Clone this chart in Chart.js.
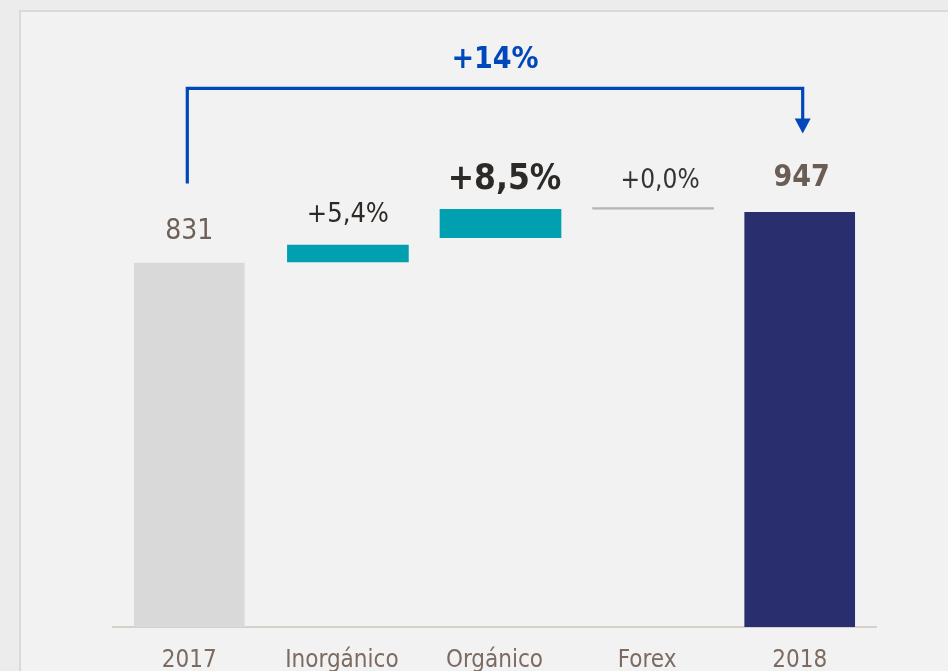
<!DOCTYPE html>
<html>
<head>
<meta charset="utf-8">
<script src="https://cdn.jsdelivr.net/npm/chart.js@4"></script>
<style>
  body { margin: 0; background: #ececec; overflow: hidden; }
  #frame { position: absolute; left: 19px; top: 10px; width: 2000px; height: 2000px;
           border: 2px solid #dadada; background: #f2f2f2; }
  #chart { position: absolute; left: 0; top: 0; }
</style>
</head>
<body>
<div id="frame"></div>
<canvas id="chart" width="948" height="671"></canvas>
<script>
// categories and values
var categories = ['2017', 'Inorgánico', 'Orgánico', 'Forex', '2018'];
var totals = [831, null, null, null, 947];
var changeStart = [null, 834, 889, 954, null];
var changeEnd = [null, 872, 954, 958, null];
var valueLabels = ['831', '+5,4%', '+8,5%', '+0,0%', '947'];
var totalGrowth = '+14%';
var bracketLevel = 1230;   // value level of the blue bracket
var bracketStart = 1013;   // where the bracket leaves 2017
var bracketTip = 1127;     // arrow tip above 2018

var FONT = "'DejaVu Sans Condensed', 'Liberation Sans Narrow', 'DejaVu Sans', sans-serif";
var CHANGE_SHIFT = 6; // the variation bars sit a little right of their labels

// style for each value label: font, colour, x nudge, gap above the bar
var labelStyles = [
    { font: '28px ' + FONT, color: '#6d6058', dx: 0, gap: 31 },
    { font: '27px ' + FONT, color: '#2d2926', dx: 0, gap: 30 },
    { font: 'bold 35px ' + FONT, color: '#2d2926', dx: 4, gap: 29 },
    { font: '26px ' + FONT, color: '#333333', dx: 7, gap: 26 },
    { font: 'bold 30px ' + FONT, color: '#6b5d54', dx: 2, gap: 34 }
];

var changes = changeStart.map(function (s, i) {
    return s === null ? null : [s, changeEnd[i]];
});

// nudges the variation dataset to the right
var shiftChanges = {
    id: 'shiftChanges',
    beforeDatasetDraw: function (chart, args) {
        if (args.index === 1) {
            chart.ctx.save();
            chart.ctx.translate(CHANGE_SHIFT, 0);
        }
    },
    afterDatasetDraw: function (chart, args) {
        if (args.index === 1) chart.ctx.restore();
    }
};

// draws the value labels and the blue +14% bracket
var annotate = {
    id: 'annotate',
    afterDatasetsDraw: function (chart) {
        var ctx = chart.ctx;
        var y = chart.scales.y;
        var els = [];
        categories.forEach(function (c, i) {
            var ds = totals[i] !== null ? 0 : 1;
            els.push({ el: chart.getDatasetMeta(ds).data[i], shift: ds === 1 ? CHANGE_SHIFT : 0 });
        });
        ctx.save();
        ctx.textAlign = 'center';
        ctx.textBaseline = 'middle';
        els.forEach(function (e, i) {
            var st = labelStyles[i];
            var top = Math.min(e.el.y, e.el.base);
            ctx.font = st.font;
            ctx.fillStyle = st.color;
            ctx.fillText(valueLabels[i], e.el.x + e.shift + st.dx, top - st.gap);
        });

        // bracket from 2017 to 2018
        var x1 = els[0].el.x - 2;
        var x2 = els[4].el.x + 3;
        var yl = y.getPixelForValue(bracketLevel);
        var ys = y.getPixelForValue(bracketStart);
        var yt = y.getPixelForValue(bracketTip);
        ctx.strokeStyle = '#0047bb';
        ctx.fillStyle = '#0047bb';
        ctx.lineWidth = 3.2;
        ctx.lineJoin = 'miter';
        ctx.beginPath();
        ctx.moveTo(x1, ys);
        ctx.lineTo(x1, yl);
        ctx.lineTo(x2, yl);
        ctx.lineTo(x2, yt - 12);
        ctx.stroke();
        ctx.beginPath();
        ctx.moveTo(x2 - 8, yt - 15);
        ctx.lineTo(x2 + 8, yt - 15);
        ctx.lineTo(x2, yt);
        ctx.closePath();
        ctx.fill();

        ctx.font = 'bold 30px ' + FONT;
        ctx.fillText(totalGrowth, (x1 + x2) / 2, yl - 28);
        ctx.restore();
    }
};

var ctx = document.getElementById('chart').getContext('2d');
var myChart = new Chart(ctx, {
    type: 'bar',
    data: {
        labels: categories,
        datasets: [{
            label: 'Total',
            data: totals,
            backgroundColor: ['#d9d9d9', null, null, null, '#282e6e'],
            barThickness: 110,
            grouped: false
        }, {
            label: 'Variación',
            data: changes,
            backgroundColor: [null, '#00a0b0', '#00a0b0', '#b4b4b4', null],
            barThickness: 121,
            grouped: false
        }]
    },
    options: {
        responsive: false,
        animation: false,
        layout: { padding: { left: 113, right: 72, top: 14, bottom: 0 } },
        plugins: {
            legend: { display: false },
            tooltip: { enabled: false }
        },
        scales: {
            x: {
                grid: { display: false, drawTicks: false },
                border: { display: true, color: '#d6d0cb', width: 2 },
                ticks: {
                    color: '#7b6b62',
                    font: { family: FONT, size: 24 },
                    padding: 19,
                    maxRotation: 0
                },
                afterFit: function (s) { s.height = 44; }
            },
            y: {
                display: false,
                min: 0,
                max: 1400
            }
        }
    },
    plugins: [shiftChanges, annotate]
});
</script>
</body>
</html>
